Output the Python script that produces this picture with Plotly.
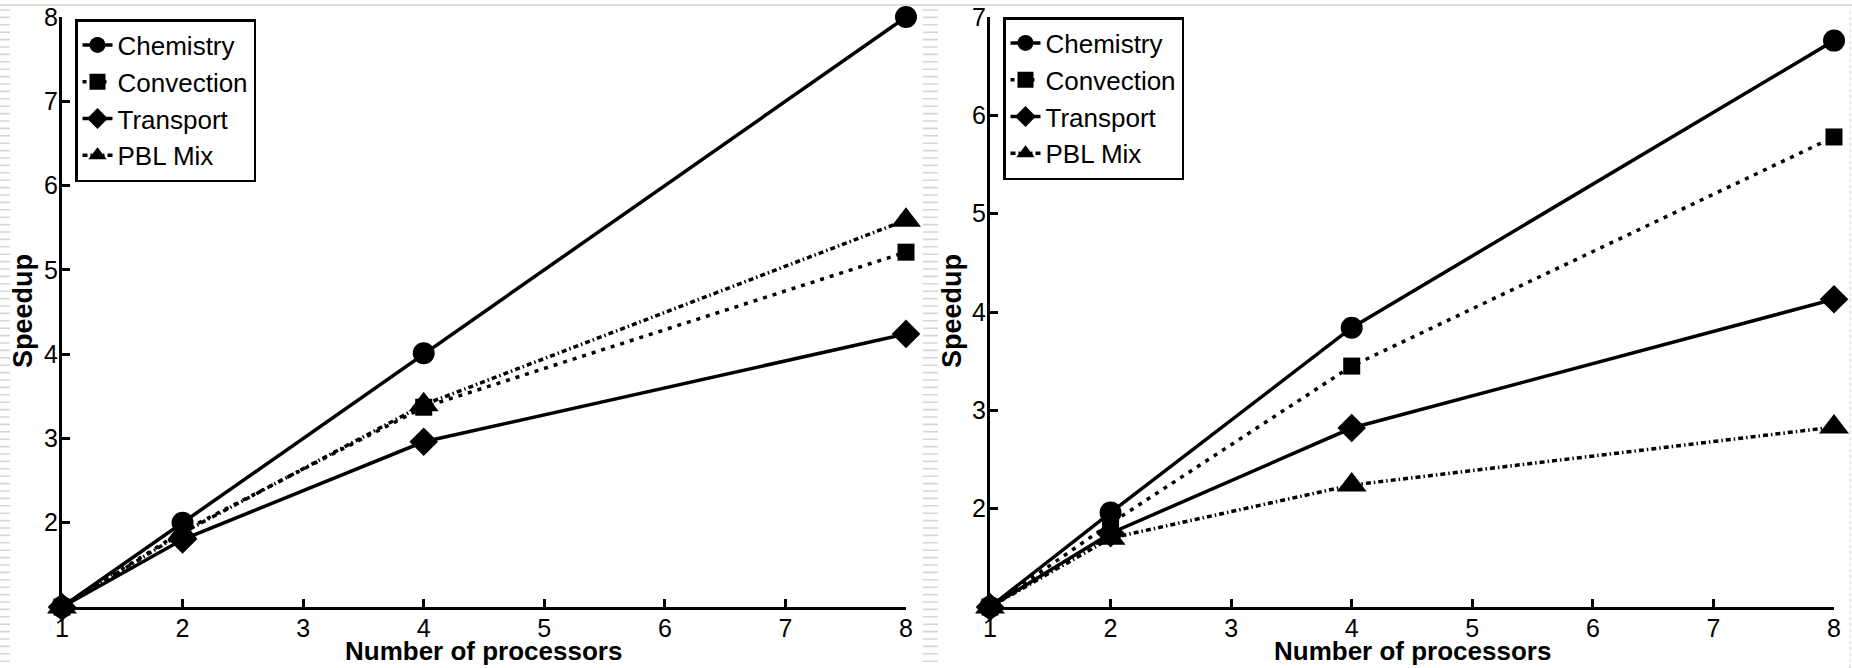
import plotly.graph_objects as go

# ---------------- data ----------------
processors = [1, 2, 4, 8]

left_chemistry = [1.0, 2.0, 4.01, 8.0]
left_convection = [1.0, 1.9, 3.37, 5.21]
left_transport = [1.0, 1.8, 2.96, 4.24]
left_pbl = [1.0, 1.88, 3.40, 5.59]

right_chemistry = [1.0, 1.96, 3.84, 6.76]
right_convection = [1.0, 1.85, 3.45, 5.78]
right_transport = [1.0, 1.75, 2.82, 4.13]
right_pbl = [1.0, 1.70, 2.24, 2.83]

series_names = ["Chemistry", "Convection", "Transport", "PBL Mix"]
x_ticks = [1, 2, 3, 4, 5, 6, 7, 8]
left_y_ticks = [2, 3, 4, 5, 6, 7, 8]
right_y_ticks = [2, 3, 4, 5, 6, 7]

# ---------------- styling ----------------
FONT = "Liberation Sans, Arial, Helvetica, sans-serif"
styles = {
    "Chemistry": dict(symbol="circle", size=22, dash="solid"),
    "Convection": dict(symbol="square", size=17, dash="4px,6px"),
    "Transport": dict(symbol="diamond", size=22, dash="solid"),
    "PBL Mix": dict(symbol="triangle-up", size=26, dash="5px,3px,1.5px,3px"),
}

fig = go.Figure()

left_data = [left_chemistry, left_convection, left_transport, left_pbl]
right_data = [right_chemistry, right_convection, right_transport, right_pbl]

for name, ys in zip(series_names, left_data):
    st = styles[name]
    fig.add_trace(go.Scatter(
        x=processors, y=ys, name=name, mode="lines+markers",
        xaxis="x", yaxis="y", legend="legend", cliponaxis=False,
        line=dict(color="black", width=3.5, dash=st["dash"]),
        marker=dict(symbol=st["symbol"], size=st["size"], color="black"),
    ))

for name, ys in zip(series_names, right_data):
    st = styles[name]
    fig.add_trace(go.Scatter(
        x=processors, y=ys, name=name, mode="lines+markers",
        xaxis="x2", yaxis="y2", legend="legend2", cliponaxis=False,
        line=dict(color="black", width=3.5, dash=st["dash"]),
        marker=dict(symbol=st["symbol"], size=st["size"], color="black"),
    ))

W, H = 1852, 668
def px_x(p):
    return p / W
def px_y(p):
    return 1 - p / H

axis_common = dict(
    showline=True, linecolor="black", linewidth=3,
    ticks="inside", ticklen=8, tickwidth=2.5, tickcolor="black",
    showgrid=False, zeroline=False, automargin=False,
    tickfont=dict(family=FONT, size=25, color="black"),
)

fig.update_layout(
    width=W, height=H,
    margin=dict(l=0, r=0, t=0, b=0),
    paper_bgcolor="white", plot_bgcolor="white",
    font=dict(family=FONT, color="black"),
    xaxis=dict(domain=[px_x(62), px_x(906)], range=[1, 8], tickvals=x_ticks,
               anchor="y", ticklabelstandoff=-3, **axis_common),
    yaxis=dict(domain=[px_y(607), px_y(17)], range=[1, 8], tickvals=left_y_ticks,
               anchor="x", ticklabelstandoff=-4, **axis_common),
    xaxis2=dict(domain=[px_x(990), px_x(1834)], range=[1, 8], tickvals=x_ticks,
                anchor="y2", ticklabelstandoff=-3, **axis_common),
    yaxis2=dict(domain=[px_y(607), px_y(17)], range=[1, 7], tickvals=right_y_ticks,
                anchor="x2", ticklabelstandoff=-4, **axis_common),
    legend=dict(x=px_x(75), y=px_y(19), xanchor="left", yanchor="top",
                bgcolor="white", bordercolor="black", borderwidth=2.5,
                font=dict(family=FONT, size=26, color="black"),
                tracegroupgap=0),
    legend2=dict(x=px_x(1003), y=px_y(17), xanchor="left", yanchor="top",
                 bgcolor="white", bordercolor="black", borderwidth=2.5,
                 font=dict(family=FONT, size=26, color="black"),
                 tracegroupgap=0),
    showlegend=True,
)

# axis titles as annotations
title_font = dict(family=FONT, size=26, color="black")
for cx in (484, 1412):
    fig.add_annotation(text="<b>Number of processors</b>", x=px_x(cx), y=px_y(651),
                       xref="paper", yref="paper", showarrow=False, font=title_font,
                       xanchor="center", yanchor="middle")
for cx in (23, 952):
    fig.add_annotation(text="<b>Speedup</b>", x=px_x(cx), y=px_y(311), textangle=-90,
                       xref="paper", yref="paper", showarrow=False,
                       font=dict(family=FONT, size=27, color="black"),
                       xanchor="center", yanchor="middle")

# page decorations (screenshot artefacts): top rule, ruler strips, right dotted edge
shapes = []
shapes.append(dict(type="line", xref="paper", yref="paper", x0=0, x1=1,
                   y0=px_y(5), y1=px_y(5), line=dict(color="#dddddd", width=2),
                   layer="below"))
def strip_path(xa, xb):
    parts = []
    yy = 10.0
    while yy < H:
        parts.append(f"M{px_x(xa)},{px_y(yy)} L{px_x(xb)},{px_y(yy)}")
        yy += 7.4
    return " ".join(parts)
shapes.append(dict(type="path", xref="paper", yref="paper", path=strip_path(0, 10),
                   line=dict(color="#d6d6d6", width=1.6), layer="below"))
shapes.append(dict(type="path", xref="paper", yref="paper", path=strip_path(923, 938),
                   line=dict(color="#d6d6d6", width=1.6), layer="below"))
shapes.append(dict(type="line", xref="paper", yref="paper", x0=px_x(1850), x1=px_x(1850),
                   y0=0, y1=px_y(8), line=dict(color="#cccccc", width=1, dash="dot"),
                   layer="below"))
fig.update_layout(shapes=shapes)

fig.write_html("out.html")
